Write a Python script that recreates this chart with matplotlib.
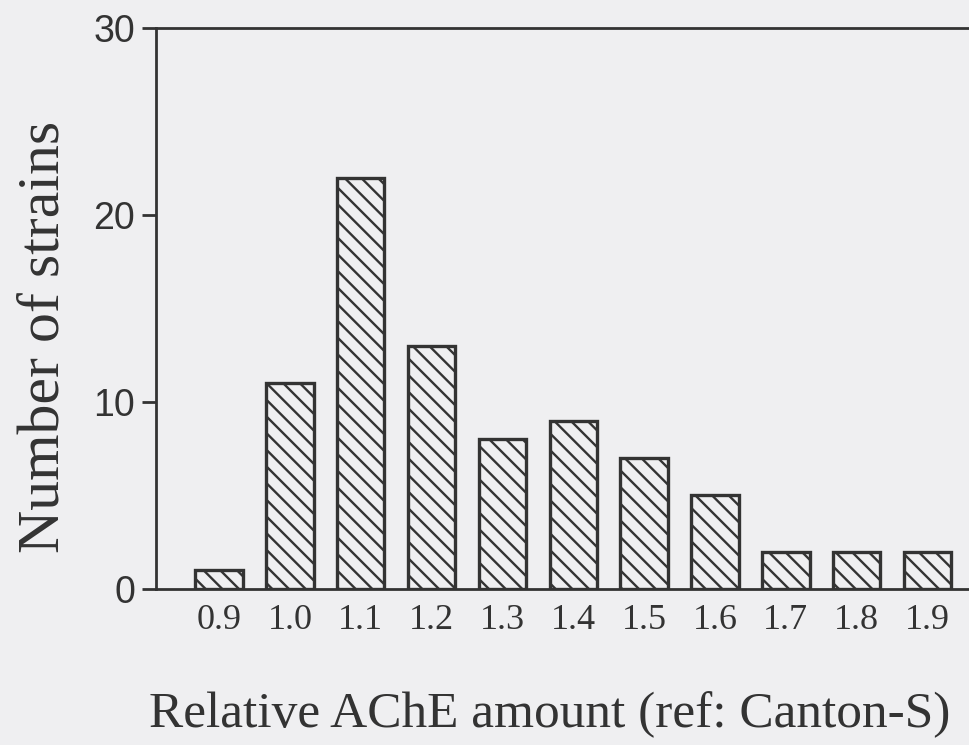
import numpy as np
import matplotlib.pyplot as plt

# donnees
amounts = ['0.9', '1.0', '1.1', '1.2', '1.3', '1.4', '1.5', '1.6', '1.7', '1.8', '1.9']
n_strains = [1, 11, 22, 13, 8, 9, 7, 5, 2, 2, 2]
y_ticks = [0, 10, 20, 30]

ink = '#333333'
paper = '#efeff1'

plt.rcParams['hatch.linewidth'] = 1.7
plt.rcParams['hatch.color'] = ink

fig = plt.figure(figsize=(9.7, 7.45), dpi=100, facecolor=paper)
ax = fig.add_axes([0.1608, 0.2094, 0.8392, 0.753])
ax.set_facecolor(paper)

x = np.arange(len(amounts))
ax.bar(x, n_strains, width=0.67, facecolor=paper, edgecolor=ink,
       linewidth=2.4, hatch='\\\\')

ax.set_xlim(-0.89, 10.6)
ax.set_ylim(0, 30)

ax.set_yticks(y_ticks)
ax.set_yticklabels([str(t) for t in y_ticks], family='Liberation Sans',
                   fontsize=27, color=ink)
ax.set_xticks(x)
ax.set_xticklabels(amounts, family='Liberation Serif', fontsize=26, color=ink)
ax.tick_params(axis='y', direction='out', length=10, width=2, color=ink, pad=5)
ax.tick_params(axis='x', length=0, pad=11)

for s in ['top', 'left', 'bottom']:
    ax.spines[s].set_linewidth(2)
    ax.spines[s].set_color(ink)
ax.spines['right'].set_visible(False)

fig.text(0.046, 0.548, 'Number of strains', rotation=90, ha='center', va='center',
         family='Liberation Serif', fontsize=43, color=ink)
fig.text(0.567, 0.04, 'Relative AChE amount (ref: Canton-S)', ha='center',
         va='center', family='Liberation Serif', fontsize=37, color=ink)

fig.savefig('out.png', dpi=100, facecolor=paper)
